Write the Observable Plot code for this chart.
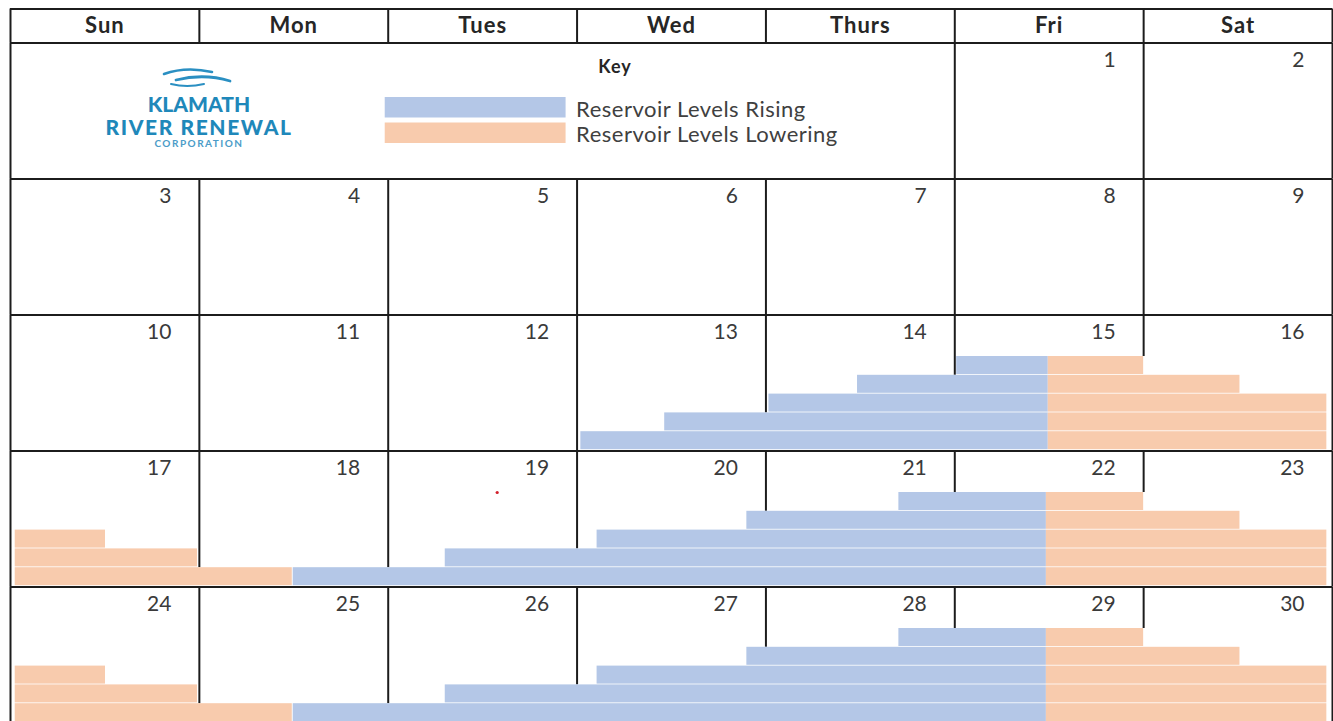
<!DOCTYPE html>
<html>
<head>
<meta charset="utf-8">
<script src="https://cdn.jsdelivr.net/npm/d3@7"></script>
<script src="https://cdn.jsdelivr.net/npm/@observablehq/plot@0.6"></script>
<style>
  html, body { margin: 0; padding: 0; background: #fff; }
  #wrap { position: relative; width: 1333px; height: 721px; overflow: hidden; background: #fff; }
  #chart svg { display: block; }
  #logo { position: absolute; left: 0; top: 0; width: 1333px; height: 721px; pointer-events: none; }
  .logo-text { position: absolute; left: 99px; width: 200px; text-align: center; font-family: Lato, "Open Sans", sans-serif; font-weight: 900; color: #1f88ba; white-space: nowrap; }
</style>
</head>
<body>
<div id="wrap">
  <div id="chart"></div>
  <div id="logo">
    <svg width="1333" height="721" style="position:absolute;left:0;top:0">
      <g fill="none" stroke="#2a8fc2" stroke-linecap="round">
        <path d="M164,74 Q186,66 212,72" stroke-width="2.6"/>
        <path d="M176,80 Q204,73 230,81" stroke-width="2.8"/>
        <path d="M171,84 Q187,88 204,84" stroke-width="2"/>
      </g>
    </svg>
    <div class="logo-text" style="top:91px;font-size:21px;letter-spacing:0px;">KLAMATH</div>
    <div class="logo-text" style="top:114px;font-size:21px;letter-spacing:1.6px;">RIVER RENEWAL</div>
    <div class="logo-text" style="top:137px;font-size:10px;letter-spacing:1.5px;font-weight:700;color:#4b9cc8;">CORPORATION</div>
  </div>
</div>
<script>
// ---- data ----
const days = ["Sun", "Mon", "Tues", "Wed", "Thurs", "Fri", "Sat"];
const dates = [1,2,3,4,5,6,7,8,9,10,11,12,13,14,15,16,17,18,19,20,21,22,23,24,25,26,27,28,29,30];
const firstWeekday = 5;        // the 1st falls on Friday
const keySpan = 5;             // key box covers Sun..Thurs of the first row
const keyTitle = "Key";
const legendLabels = ["Reservoir Levels Rising", "Reservoir Levels Lowering"];
const legendColors = ["#b4c7e7", "#f8cbad"];

// [week row, lane, start (day units), end (day units)]
const risingBars = [
  [2,0,5.01,5.495],[2,1,4.485,5.495],[2,2,4.016,5.495],[2,3,3.464,5.495],[2,4,3.02,5.495],
  [3,0,4.704,5.485],[3,1,3.899,5.485],[3,2,3.106,5.485],[3,3,2.302,5.485],[3,4,1.497,5.485],
  [4,0,4.704,5.485],[4,1,3.899,5.485],[4,2,3.106,5.485],[4,3,2.302,5.485],[4,4,1.497,5.485]
];
const loweringBars = [
  [2,0,5.495,6.0],[2,1,5.495,6.51],[2,2,5.495,6.97],[2,3,5.495,6.97],[2,4,5.495,6.97],
  [3,2,0.025,0.503],[3,3,0.025,0.99],[3,4,0.025,1.492],
  [3,0,5.485,6.0],[3,1,5.485,6.51],[3,2,5.485,6.97],[3,3,5.485,6.97],[3,4,5.485,6.97],
  [4,2,0.025,0.503],[4,3,0.025,0.99],[4,4,0.025,1.492],
  [4,0,5.485,6.0],[4,1,5.485,6.51],[4,2,5.485,6.97],[4,3,5.485,6.97],[4,4,5.485,6.97]
];
const strayDots = [[2.577, 3.305]];

// ---- layout (row units: one week row = 136px) ----
const ROW = 136;
const laneTop = (lane) => (41.5 + 18.8 * lane) / ROW;
const laneH = 18.0 / ROW;

const toBar = (kind) => ([w, lane, s, e]) => ({kind, w, x1: s, x2: e, y1: w + laneTop(lane), y2: w + laneTop(lane) + laneH});
const bars = [...risingBars.map(toBar("rise")), ...loweringBars.map(toBar("lower"))];

// vertical grid segments; a line stops where the first bar spanning it begins
const tol = 0.006;
const vSegs = [];
for (let c = 0; c <= 7; c++) vSegs.push({x: c, y1: -0.25, y2: 0});
for (let r = 0; r < 5; r++) for (let c = 0; c <= 7; c++) {
  if (r === 0 && c > 0 && c < keySpan) continue;
  const cover = bars.filter(b => b.w === r && b.x1 < c + tol && b.x2 > c - tol);
  const y2 = cover.length ? d3.min(cover, b => b.y1) : r + 1;
  vSegs.push({x: c, y1: r, y2});
}

const dateCells = dates.map(d => {
  const i = d - 1 + firstWeekday;
  return {d, row: Math.floor(i / 7), col: i % 7};
});

const legend = legendLabels.map((t, i) => ({t, color: legendColors[i], i}));
const legY = (i) => (97 + 25.5 * i - 42.5) / ROW;

const chart = Plot.plot({
  width: 1333,
  height: 721,
  margin: 0,
  x: {type: "linear", domain: [0, 7], range: [10, 1332], axis: null},
  y: {type: "linear", domain: [-0.25, 5], range: [8.5, 722.5], axis: null},
  style: {fontFamily: "Lato, 'Open Sans', sans-serif", background: "#fff", overflow: "visible"},
  marks: [
    Plot.ruleY([-0.25, 0, 1, 2, 3, 4, 5], {x1: 0, x2: 7, stroke: "#1c1c1c", strokeWidth: 2}),
    Plot.ruleX(vSegs, {x: "x", y1: "y1", y2: "y2", stroke: "#1c1c1c", strokeWidth: 2}),
    Plot.rect(bars, {x1: "x1", x2: "x2", y1: "y1", y2: "y2", fill: d => d.kind === "rise" ? legendColors[0] : legendColors[1]}),
    Plot.text(days, {x: (d, i) => i + 0.5, y: (32 - 42.5) / ROW, text: d => d, lineAnchor: "bottom", fontSize: 22, fontWeight: "bold", fill: "#262626", className: "hdr"}),
    Plot.text(dateCells, {x: d => d.col + 1 - 28 / 189, y: d => d.row + 24 / ROW, text: d => String(d.d), textAnchor: "end", lineAnchor: "bottom", fontSize: 21, fill: "#3a3a3a"}),
    Plot.text([keyTitle], {x: (615 - 10) / 189, y: (72 - 42.5) / ROW, text: d => d, lineAnchor: "bottom", fontSize: 18, fontWeight: "bold", fill: "#262626", className: "keyt"}),
    Plot.rect(legend, {x1: (385 - 10) / 189, x2: (566 - 10) / 189, y1: d => legY(d.i), y2: d => legY(d.i) + 20.5 / ROW, fill: "color"}),
    Plot.text(legend, {x: (576 - 10) / 189, y: d => (116 + 25.5 * d.i - 42.5) / ROW, text: "t", textAnchor: "start", lineAnchor: "bottom", fontSize: 22, fill: "#404040", className: "legt"}),
    Plot.dot(strayDots, {x: d => d[0], y: d => d[1], r: 1.6, fill: "#d21f2b", stroke: null})
  ]
});
// letter spacing to match the wider lettering of the original
d3.select(chart).selectAll(".hdr text").attr("letter-spacing", "1px");
d3.select(chart).selectAll(".keyt text").attr("letter-spacing", "1px");
d3.select(chart).selectAll(".legt text").attr("letter-spacing", "0.5px");
document.getElementById("chart").appendChild(chart);
</script>
</body>
</html>
